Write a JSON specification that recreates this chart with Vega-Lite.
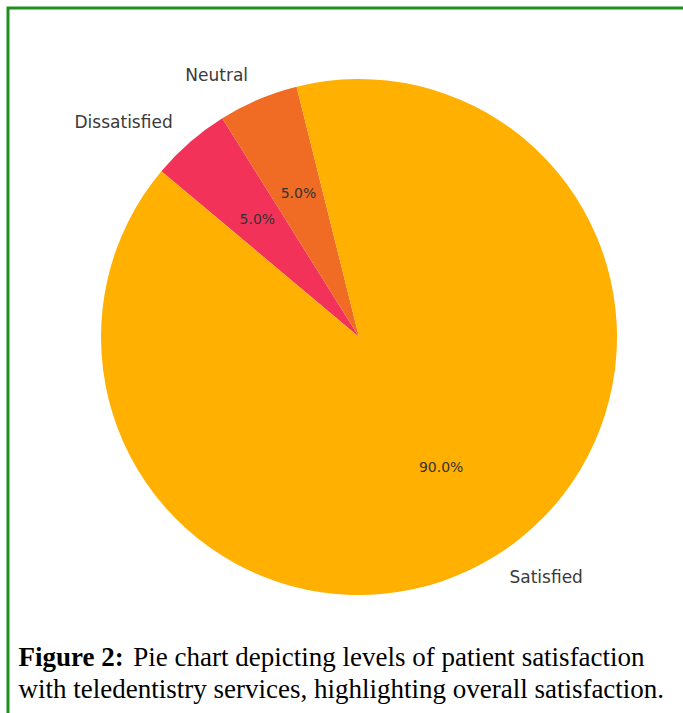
{
  "$schema": "https://vega.github.io/schema/vega-lite/v6.json",
  "autosize": {"type": "none"},
  "width": 675,
  "height": 705,
  "padding": {"left": 8, "top": 8, "right": 0, "bottom": 0},
  "background": "white",
  "config": {
    "view": {"stroke": null},
    "font": "DejaVu Sans"
  },
  "title": {
    "text": "Figure 2:",
    "subtitle": [
      "\u200b\u00a0\u00a0\u00a0\u00a0\u00a0\u00a0\u00a0\u00a0\u00a0\u00a0\u00a0\u00a0\u00a0\u00a0\u00a0\u00a0\u00a0Pie chart depicting levels of patient satisfaction",
      "with teledentistry services, highlighting overall satisfaction."
    ],
    "orient": "bottom",
    "anchor": "start",
    "offset": -90,
    "dx": 12,
    "font": "Liberation Serif",
    "fontSize": 27,
    "fontWeight": "bold",
    "color": "#000000",
    "subtitleFont": "Liberation Serif",
    "subtitleFontSize": 27,
    "subtitleFontWeight": "normal",
    "subtitleColor": "#000000",
    "subtitleLineHeight": 32,
    "subtitlePadding": -27
  },
  "data": {
    "values": [
      {"label": "Dissatisfied", "share": 0.05},
      {"label": "Neutral", "share": 0.05},
      {"label": "Satisfied", "share": 0.90}
    ]
  },
  "layer": [
    {
      "data": {"values": [{"frame": "border"}]},
      "mark": {
        "type": "rect",
        "x": 0,
        "y": 0,
        "x2": {"expr": "width+20"},
        "y2": {"expr": "height+20"},
        "fill": null,
        "stroke": "#1f8f1f",
        "strokeWidth": 3
      },
      "encoding": {}
    },
    {
      "mark": {"type": "arc", "outerRadius": 258, "x": {"expr": "width/2+13.5"}, "y": {"expr": "height/2-23.5"}},
      "encoding": {
        "theta": {
          "field": "share",
          "type": "quantitative",
          "stack": true,
          "scale": {"range": [5.4105, 11.6937]}
        },
        "order": {"field": "label", "type": "nominal", "sort": "ascending"},
        "color": {
          "field": "label",
          "type": "nominal",
          "scale": {
            "domain": ["Dissatisfied", "Neutral", "Satisfied"],
            "range": ["#F3325A", "#F06B24", "#FFB000"]
          },
          "legend": null
        }
      }
    },
    {
      "mark": {
        "type": "text",
        "radius": 284,
        "fontSize": 17,
        "color": "#3a3a3a",
        "baseline": "middle",
        "align": {"expr": "datum.label === 'Satisfied' ? 'left' : 'right'"},
        "x": {"expr": "width/2+13.5"},
        "y": {"expr": "height/2-23.5"}
      },
      "encoding": {
        "theta": {"field": "share", "type": "quantitative", "stack": true},
        "order": {"field": "label", "type": "nominal", "sort": "ascending"},
        "detail": {"field": "label", "type": "nominal"},
        "text": {"field": "label", "type": "nominal"}
      }
    },
    {
      "mark": {
        "type": "text",
        "radius": 155,
        "fontSize": 14,
        "color": "#333333",
        "baseline": "middle",
        "align": "center",
        "x": {"expr": "width/2+13.5"},
        "y": {"expr": "height/2-23.5"}
      },
      "encoding": {
        "theta": {"field": "share", "type": "quantitative", "stack": true},
        "order": {"field": "label", "type": "nominal", "sort": "ascending"},
        "detail": {"field": "label", "type": "nominal"},
        "text": {"field": "share", "type": "quantitative", "format": ".1%"}
      }
    }
  ]
}
